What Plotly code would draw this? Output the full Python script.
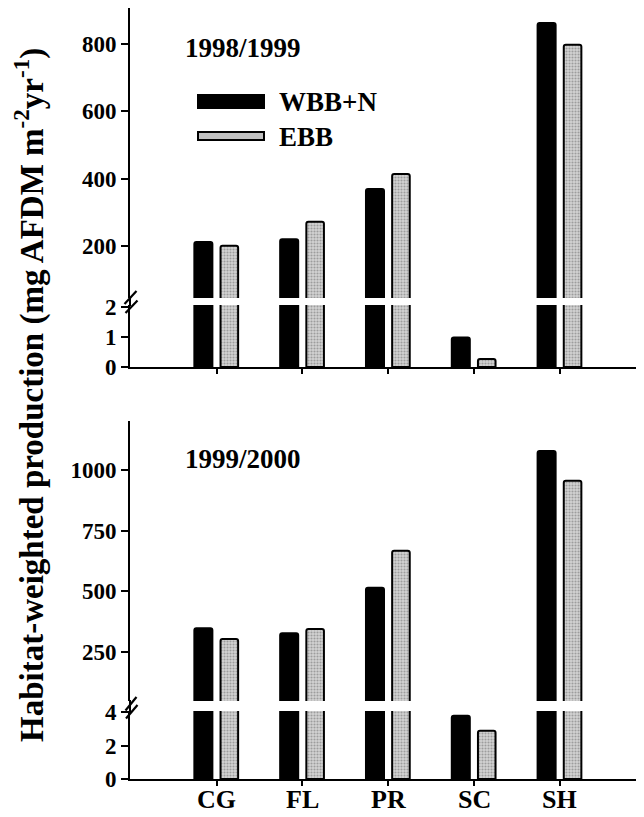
import plotly.graph_objects as go

# ---------------- data ----------------
categories = ["CG", "FL", "PR", "SC", "SH"]
series_names = ["WBB+N", "EBB"]
wbb_1998 = [212, 220, 369, 0.98, 862]
ebb_1998 = [201, 272, 414, 0.27, 798]
wbb_1999 = [348, 327, 515, 3.78, 1078]
ebb_1999 = [304, 345, 667, 2.88, 956]
panel_labels = ["1998/1999", "1999/2000"]
ticks_top_upper = [200, 400, 600, 800]
ticks_top_lower = [0, 1, 2]
ticks_bot_upper = [250, 500, 750, 1000]
ticks_bot_lower = [0, 2, 4]
y_title = "Habitat-weighted production (mg AFDM m<sup>-2</sup>yr<sup>-1</sup>)"

# ---------------- geometry helpers ----------------
# the page body has an 8px default margin, so the figure is drawn 8px in
OFF = 8
W, H = 644 - OFF, 817 - OFF
ML, MR, MT, MB = 130 - OFF, 0, 0, 38
PW, PH = W - ML - MR, H - MT - MB


def fx(px):  # screen px -> paper
    return (px - OFF - ML) / PW


def fy(py):  # screen px -> paper
    return (H - MB - (py - OFF)) / PH


FONT = "Liberation Serif, Times New Roman, serif"
BLACK = "#000000"
GREY = "#c0c0c0"
GREY_PATTERN = dict(shape=".", fgcolor="#666666", bgcolor="#d4d4d4", size=3, solidity=0.4)

fig = go.Figure()

panels = [
    (wbb_1998, ebb_1998, "x", "y", "y2"),
    (wbb_1999, ebb_1999, "x2", "y3", "y4"),
]
for wbb, ebb, xa, ya_up, ya_lo in panels:
    for ya in (ya_up, ya_lo):
        fig.add_trace(go.Bar(
            x=categories, y=wbb, name=series_names[0], xaxis=xa, yaxis=ya,
            width=0.21, offset=-0.26,
            marker=dict(color=BLACK, line=dict(color=BLACK, width=2)),
            showlegend=False, cliponaxis=True,
        ))
        fig.add_trace(go.Bar(
            x=categories, y=ebb, name=series_names[1], xaxis=xa, yaxis=ya,
            width=0.205, offset=0.045,
            marker=dict(color=GREY, pattern=GREY_PATTERN,
                        line=dict(color=BLACK, width=2)),
            showlegend=False, cliponaxis=True,
        ))

tickfont = dict(family=FONT, size=23, color=BLACK, weight="bold")
xcommon = dict(type="category", categoryorder="array", categoryarray=categories,
               range=[-1.01, 4.98], showline=True, linewidth=2, linecolor=BLACK,
               ticks="outside", ticklen=5, tickwidth=2, tickcolor=BLACK,
               showgrid=False, zeroline=False, automargin=False,
               showticklabels=False)
ycommon = dict(showline=True, linewidth=2, linecolor=BLACK, ticks="outside",
               ticklen=7, tickwidth=2, tickcolor=BLACK, showgrid=False,
               zeroline=False, tickfont=tickfont, tickmode="array", automargin=False)

fig.update_layout(
    width=W, height=H,
    margin=dict(l=ML, r=MR, t=MT, b=MB, autoexpand=False),
    paper_bgcolor="white", plot_bgcolor="white",
    barmode="overlay", barcornerradius=2,
    font=dict(family=FONT, color=BLACK),
    showlegend=False,
    xaxis=dict(xcommon, domain=[0, 1], anchor="y2"),
    xaxis2=dict(xcommon, domain=[0, 1], anchor="y4"),
    yaxis=dict(ycommon, domain=[fy(298), fy(8)], range=[45.6, 906.9],
               anchor="x", tickvals=ticks_top_upper),
    yaxis2=dict(ycommon, domain=[fy(367), fy(305)], range=[0, 2.067],
                anchor="x", tickvals=ticks_top_lower),
    yaxis3=dict(ycommon, domain=[fy(701), fy(421)], range=[48.1, 1201.9],
                anchor="x2", tickvals=ticks_bot_upper),
    yaxis4=dict(ycommon, domain=[0, fy(711)], range=[0, 4.06],
                anchor="x2", tickvals=ticks_bot_lower),
)

shapes = []
# axis continuity through the breaks
for top, bot in [(298, 305), (701, 711)]:
    shapes.append(dict(type="line", xref="paper", yref="paper",
                       x0=fx(130), x1=fx(130), y0=fy(top - 1), y1=fy(bot + 1),
                       line=dict(color=BLACK, width=2)))
# break slashes
for (x0, y0, x1, y1) in [
    (124.5, 304, 136.5, 291), (125.5, 313, 137.5, 300.5),
    (125.5, 710.5, 136.5, 697), (126, 718.5, 137.5, 705),
]:
    shapes.append(dict(type="line", xref="paper", yref="paper",
                       x0=fx(x0), y0=fy(y0), x1=fx(x1), y1=fy(y1),
                       line=dict(color=BLACK, width=2.2)))
# legend boxes
shapes.append(dict(type="rect", xref="paper", yref="paper",
                   x0=fx(198), x1=fx(264), y0=fy(108), y1=fy(95),
                   fillcolor=BLACK, line=dict(color=BLACK, width=2)))
shapes.append(dict(type="rect", xref="paper", yref="paper",
                   x0=fx(198), x1=fx(264), y0=fy(140), y1=fy(132),
                   fillcolor=GREY, line=dict(color=BLACK, width=2)))
fig.update_layout(shapes=shapes)

annotations = [
    dict(text=panel_labels[0], x=fx(183), y=fy(48), xanchor="left", yanchor="middle",
         font=dict(family=FONT, size=27, color=BLACK, weight="bold")),
    dict(text=panel_labels[1], x=fx(183), y=fy(459), xanchor="left", yanchor="middle",
         font=dict(family=FONT, size=27, color=BLACK, weight="bold")),
    dict(text=series_names[0], x=fx(277), y=fy(102), xanchor="left", yanchor="middle",
         font=dict(family=FONT, size=27, color=BLACK, weight="bold")),
    dict(text=series_names[1], x=fx(277), y=fy(137), xanchor="left", yanchor="middle",
         font=dict(family=FONT, size=27, color=BLACK, weight="bold")),
    dict(text=y_title, x=fx(29), y=fy(395), xanchor="center", yanchor="middle",
         textangle=-90, font=dict(family=FONT, size=33, color=BLACK, weight="bold")),
]
for a in annotations:
    a.update(xref="paper", yref="paper", showarrow=False)
# category labels under the bottom panel
for cat in categories:
    annotations.append(dict(text=cat, x=cat, xref="x2", y=fy(816), yref="paper",
                            xanchor="center", yanchor="bottom", showarrow=False,
                            font=dict(family=FONT, size=26, color=BLACK, weight="bold")))
fig.update_layout(annotations=annotations)

fig.write_html("out.html")
